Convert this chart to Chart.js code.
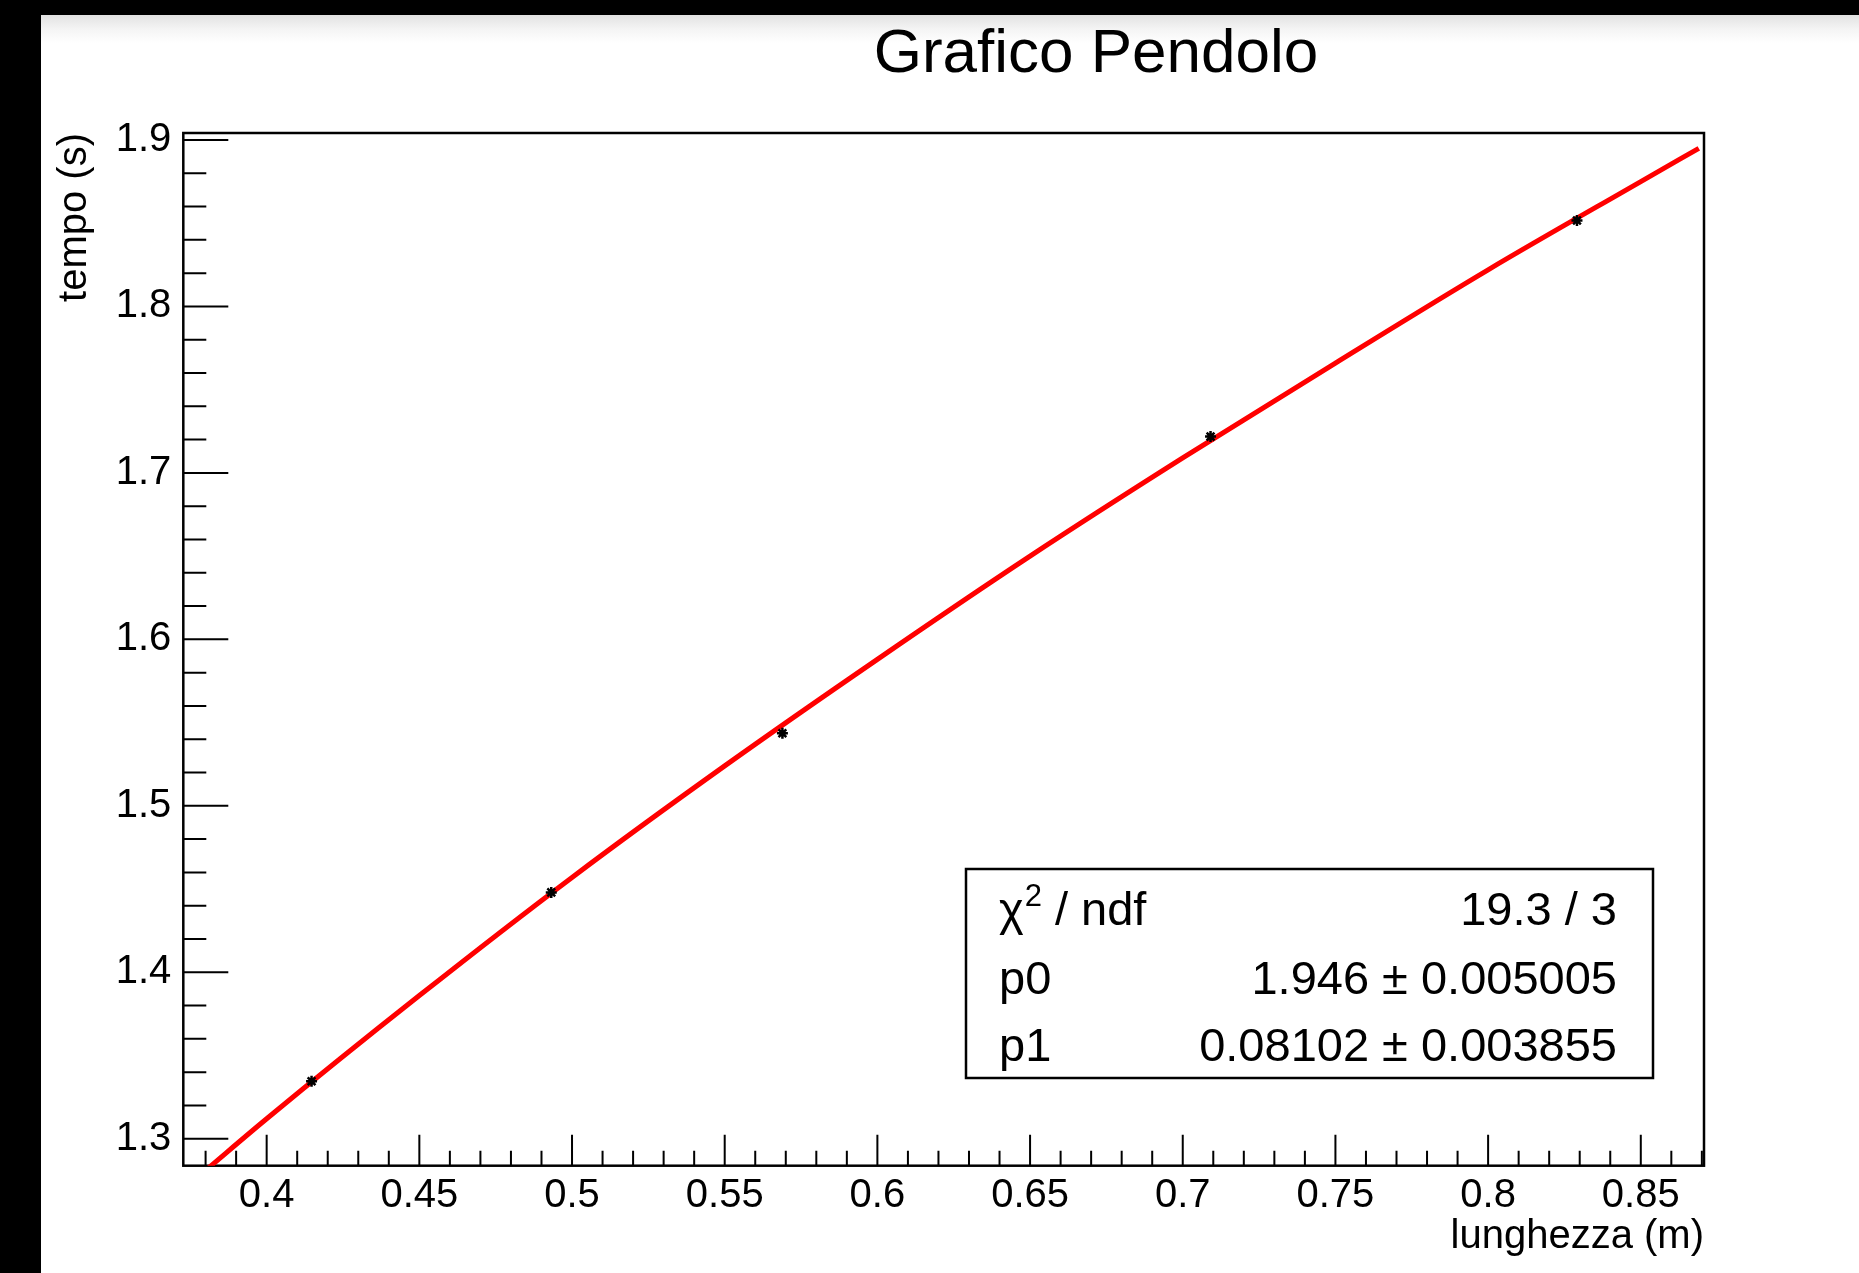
<!DOCTYPE html>
<html>
<head>
<meta charset="utf-8">
<title>Grafico Pendolo</title>
<script src="https://cdn.jsdelivr.net/npm/chart.js@4.4.1/dist/chart.umd.min.js"></script>
<style>
    body { margin: 0; background: #000; overflow: hidden; }
    #frame {
        position: absolute; left: 41px; top: 15px; right: 0; bottom: 0;
        background: linear-gradient(#e2e2e2 0px, #f4f4f4 14px, #fff 28px);
    }
    #pendolo { position: absolute; left: 0; top: 0; }
</style>
</head>
<body>
<div id="frame"></div>
<canvas id="pendolo" width="1859" height="1273"></canvas>
<script>
// measured points: length (m) vs period (s)
const lengths = [0.4147, 0.4932, 0.5689, 0.7091, 0.8291];
const periods = [1.3345, 1.4480, 1.5436, 1.7218, 1.8516];

// red fit curve
const fitLengths = [0.380, 0.400, 0.450, 0.500, 0.550, 0.600, 0.650, 0.700, 0.750, 0.800, 0.850, 0.869];
const fitPeriods = [1.281, 1.312, 1.386, 1.457, 1.524, 1.588, 1.650, 1.709, 1.766, 1.822, 1.875, 1.895];

const xTicks = [0.4, 0.45, 0.5, 0.55, 0.6, 0.65, 0.7, 0.75, 0.8, 0.85];
const yTicks = [1.3, 1.4, 1.5, 1.6, 1.7, 1.8, 1.9];

const statNames = ["χ2 / ndf", "p0", "p1"];
const statValues = ["19.3 / 3", "1.946 ± 0.005005", "0.08102 ± 0.003855"];

const FONT = "'Liberation Sans', Arial, Helvetica, sans-serif";

// ROOT style ticks (pointing inward) and the frame
const rootAxes = {
    id: "rootAxes",
    beforeDatasetsDraw(chart) {
        const { ctx, chartArea: a, scales: { x, y } } = chart;
        ctx.save();
        ctx.strokeStyle = "#000";
        ctx.lineWidth = 2;
        ctx.beginPath();
        for (let i = Math.ceil(x.min * 100); i <= Math.floor(x.max * 100); i++) {
            const px = x.getPixelForValue(i / 100);
            const len = i % 5 === 0 ? 31 : 15;
            ctx.moveTo(px, a.bottom);
            ctx.lineTo(px, a.bottom - len);
        }
        for (let i = Math.ceil(y.min * 50); i <= Math.floor(y.max * 50); i++) {
            const py = y.getPixelForValue(i / 50);
            const len = i % 5 === 0 ? 45 : 23;
            ctx.moveTo(a.left, py);
            ctx.lineTo(a.left + len, py);
        }
        ctx.stroke();
        ctx.lineWidth = 2.5;
        ctx.strokeRect(a.left, a.top, a.right - a.left, a.bottom - a.top);
        ctx.restore();
    },
    afterDraw(chart) {
        const ctx = chart.ctx;
        ctx.save();
        ctx.fillStyle = "#000";

        // title
        ctx.font = "62px " + FONT;
        ctx.textAlign = "center";
        ctx.textBaseline = "alphabetic";
        ctx.fillText("Grafico Pendolo", 1096, 72);

        // fit statistics box
        const bx = 966, by = 869, bw = 687, bh = 209;
        ctx.fillStyle = "#fff";
        ctx.fillRect(bx, by, bw, bh);
        ctx.strokeStyle = "#000";
        ctx.lineWidth = 2.5;
        ctx.strokeRect(bx, by, bw, bh);
        ctx.fillStyle = "#000";

        const baselines = [925, 994, 1061];
        for (let i = 0; i < statNames.length; i++) {
            ctx.textAlign = "left";
            ctx.font = "47px " + FONT;
            if (i === 0) {
                let tx = 999;
                ctx.fillText("χ", tx, baselines[i]);
                tx += ctx.measureText("χ").width + 1;
                ctx.font = "31px " + FONT;
                ctx.fillText("2", tx, baselines[i] - 19);
                tx += ctx.measureText("2").width;
                ctx.font = "47px " + FONT;
                ctx.fillText(" / ndf", tx, baselines[i]);
            } else {
                ctx.fillText(statNames[i], 999, baselines[i]);
            }
            ctx.textAlign = "right";
            ctx.fillText(statValues[i], 1617, baselines[i]);
        }
        ctx.restore();
    }
};

const curvePoints = fitLengths.map((v, i) => ({ x: v, y: fitPeriods[i] }));
const dataPoints = lengths.map((v, i) => ({ x: v, y: periods[i] }));

new Chart(document.getElementById("pendolo"), {
    type: "scatter",
    data: {
        datasets: [{
            label: "misure",
            data: dataPoints,
            pointStyle: "star",
            pointRadius: 5.5,
            borderColor: "#000",
            backgroundColor: "#000",
            borderWidth: 2.5,
            showLine: false
        }, {
            label: "fit",
            data: curvePoints,
            showLine: true,
            borderColor: "#ff0000",
            borderWidth: 5,
            pointRadius: 0,
            cubicInterpolationMode: "monotone",
            fill: false
        }]
    },
    options: {
        responsive: false,
        animation: false,
        devicePixelRatio: 1,
        layout: { padding: { top: 133, right: 155, left: 0, bottom: 0 } },
        plugins: {
            legend: { display: false },
            tooltip: { enabled: false },
            title: { display: false }
        },
        scales: {
            x: {
                type: "linear",
                min: 0.3727,
                max: 0.8707,
                grid: { display: false, drawTicks: false },
                border: { display: false },
                afterBuildTicks: (scale) => { scale.ticks = xTicks.map(v => ({ value: v })); },
                afterFit: (scale) => { scale.height = 107.3; },
                ticks: {
                    color: "#000",
                    padding: 6,
                    maxRotation: 0,
                    autoSkip: false,
                    font: { family: FONT, size: 40 },
                    callback: (v) => String(+v.toFixed(2))
                },
                title: {
                    display: true,
                    text: "lunghezza (m)",
                    align: "end",
                    color: "#000",
                    font: { family: FONT, size: 40 },
                    padding: { top: 0, bottom: 12 }
                }
            },
            y: {
                type: "linear",
                min: 1.2838,
                max: 1.9042,
                grid: { display: false, drawTicks: false },
                border: { display: false },
                afterBuildTicks: (scale) => { scale.ticks = yTicks.map(v => ({ value: v })); },
                afterFit: (scale) => { scale.width = 183.3; },
                ticks: {
                    color: "#000",
                    padding: 12,
                    autoSkip: false,
                    font: { family: FONT, size: 40 },
                    callback: (v) => v.toFixed(1)
                },
                title: {
                    display: true,
                    text: "tempo (s)",
                    align: "end",
                    color: "#000",
                    font: { family: FONT, size: 40 },
                    padding: { top: 51, bottom: 0 }
                }
            }
        }
    },
    plugins: [rootAxes]
});
</script>
</body>
</html>
